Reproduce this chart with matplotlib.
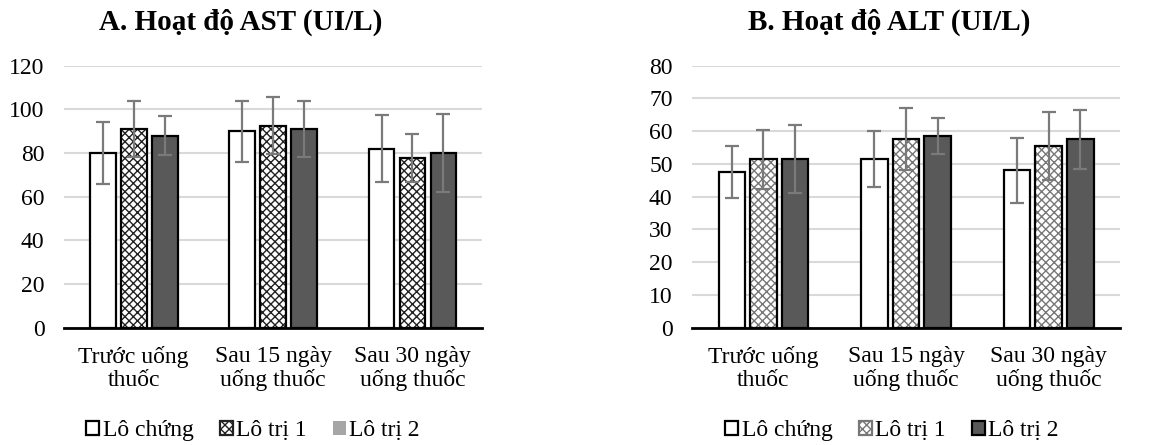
import numpy as np
import matplotlib.pyplot as plt
from matplotlib.patches import Patch

plt.rcParams['font.family'] = ['Liberation Serif', 'DejaVu Serif']

categories = ['Trước uống\nthuốc', 'Sau 15 ngày\nuống thuốc', 'Sau 30 ngày\nuống thuốc']
series = ['Lô chứng', 'Lô trị 1', 'Lô trị 2']

ast_mean = [[80, 90, 82], [91, 92.5, 77.5], [88, 91, 80]]
ast_err = [[14, 14, 15.5], [13, 13, 11], [9, 13, 18]]
alt_mean = [[47.5, 51.5, 48], [51.5, 57.5, 55.5], [51.5, 58.5, 57.5]]
alt_err = [[8, 8.5, 10], [9, 9.5, 10.5], [10.5, 5.5, 9]]

ast_ticks = [0, 20, 40, 60, 80, 100, 120]
alt_ticks = [0, 10, 20, 30, 40, 50, 60, 70, 80]

fig = plt.figure(figsize=(11.68, 4.45), dpi=100)
axA = fig.add_axes([0.0548, 0.2636, 0.358, 0.5888])
axB = fig.add_axes([0.5925, 0.2636, 0.3664, 0.5888])


def draw(ax, means, errs, ticks, hatch_col):
    x = np.arange(len(categories))
    w = 0.185
    step = 0.222
    styles = [dict(color='white', hatch=None),
              dict(color='white', hatch='xxxx'),
              dict(color='#595959', hatch=None)]
    for i in range(3):
        pos = x + (i - 1) * step
        st = styles[i]
        if st['hatch']:
            ax.bar(pos, means[i], w, color='white', edgecolor=hatch_col,
                   hatch=st['hatch'], linewidth=0, zorder=2)
            ax.bar(pos, means[i], w, color='none', edgecolor='black',
                   linewidth=1.6, zorder=3)
        else:
            ax.bar(pos, means[i], w, color=st['color'], edgecolor='black',
                   linewidth=1.6, zorder=2)
        ax.errorbar(pos, means[i], yerr=errs[i], fmt='none', ecolor='#7a7a7a',
                    elinewidth=1.6, capsize=5, capthick=1.6, zorder=4)
    ax.set_xlim(-0.5, 2.5)
    ax.set_ylim(ticks[0], ticks[-1])
    ax.set_yticks(ticks)
    ax.set_xticks(x)
    ax.set_xticklabels(categories, fontsize=17, linespacing=1.12)
    ax.tick_params(axis='y', labelsize=17, length=0, pad=14)
    ax.tick_params(axis='x', length=0, pad=13)
    ax.yaxis.grid(True, color='#d9d9d9', linewidth=1.5, zorder=0)
    ax.set_axisbelow(True)
    for s in ['top', 'right', 'left']:
        ax.spines[s].set_visible(False)
    ax.spines['bottom'].set_linewidth(2)
    ax.spines['bottom'].set_zorder(5)


draw(axA, ast_mean, ast_err, ast_ticks, '#222222')
draw(axB, alt_mean, alt_err, alt_ticks, '#777777')

fig.text(0.206, 0.95, 'A. Hoạt độ AST (UI/L)', ha='center', va='center',
         fontsize=21, fontweight='bold')
fig.text(0.761, 0.95, 'B. Hoạt độ ALT (UI/L)', ha='center', va='center',
         fontsize=21, fontweight='bold')

hA = [Patch(facecolor='white', edgecolor='black', linewidth=1.6),
      Patch(facecolor='white', edgecolor='#222222', hatch='xxxx', linewidth=1.6),
      Patch(facecolor='#a6a6a6', edgecolor='none')]
hB = [Patch(facecolor='white', edgecolor='black', linewidth=1.6),
      Patch(facecolor='white', edgecolor='#777777', hatch='xxxx', linewidth=1.6),
      Patch(facecolor='#595959', edgecolor='black', linewidth=1.6)]

for handles, cx in [(hA, 253 / 1168), (hB, 892 / 1168)]:
    fig.legend(handles, series, loc='center', bbox_to_anchor=(cx, 0.032),
               ncol=3, frameon=False, fontsize=17, handlelength=0.55,
               handleheight=0.55, handletextpad=0.15, columnspacing=1.1)

fig.savefig('out.png', dpi=100)
